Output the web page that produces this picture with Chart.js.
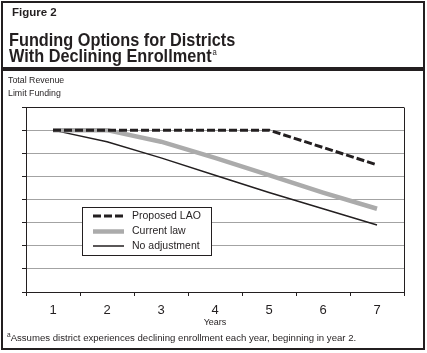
<!DOCTYPE html>
<html><head><meta charset="utf-8">
<script src="https://cdn.jsdelivr.net/npm/chart.js@4.4.1/dist/chart.umd.min.js"></script>
<style>
html,body{margin:0;padding:0;background:#fff;}
#wrap{position:relative;width:427px;height:353px;overflow:hidden;font-family:"Liberation Sans",Arial,Helvetica,sans-serif;color:#231f20;}
canvas{position:absolute;left:0;top:0;}
#frame{position:absolute;left:1px;top:1px;width:424px;height:349px;box-sizing:border-box;border:2px solid #231f20;pointer-events:none;}
#rule{position:absolute;left:1px;top:67px;width:424px;height:4px;background:#231f20;}
.t{position:absolute;white-space:nowrap;}
#fig{left:12px;top:7px;font-size:11.5px;line-height:11.5px;font-weight:bold;}
.h{left:9px;font-size:18px;line-height:18px;font-weight:bold;transform-origin:0 0;transform:scaleX(0.905);}
#h1{top:31.3px;}
#h2{top:47.3px;}
.h .sup{font-size:8.5px;font-weight:normal;vertical-align:7px;line-height:0;margin-left:1px;}
#yl{left:8px;top:73.5px;font-size:8.8px;line-height:13px;}
#fn{left:7px;top:332px;font-size:9.6px;line-height:11px;}
#fn .sup{font-size:6.5px;vertical-align:4px;line-height:0;}
</style>
</head><body>
<div id="wrap">
  <canvas id="c" width="427" height="353"></canvas>
  <div id="frame"></div>
  <div id="rule"></div>
  <div class="t" id="fig">Figure 2</div>
  <div class="t h" id="h1">Funding Options for Districts</div>
  <div class="t h" id="h2">With Declining Enrollment<span class="sup">a</span></div>
  <div class="t" id="yl">Total Revenue<br>Limit Funding</div>
  <div class="t" id="fn"><span class="sup">a</span>Assumes district experiences declining enrollment each year, beginning in year 2.</div>
</div>
<script>
const years = ['1', '2', '3', '4', '5', '6', '7'];
const proposedLAO = [7, 7, 7, 7, 7, 6.25, 5.5];
const currentLaw = [7, 7, 6.5, 5.8, 5.05, 4.3, 3.6];
const noAdjustment = [7, 6.5, 5.8, 5.05, 4.3, 3.6, 2.9];
const seriesLabels = ['Proposed LAO', 'Current law', 'No adjustment'];
const xAxisTitle = 'Years';
const yRange = [0, 8];
const yStep = 1;

const INK = '#231f20';
const FONT = '"Liberation Sans", Arial, Helvetica, sans-serif';

const framePlugin = {
  id: 'frame',
  afterDraw(chart) {
    const {ctx, chartArea: a} = chart;
    ctx.save();
    ctx.strokeStyle = INK;
    ctx.lineWidth = 1;
    ctx.beginPath();
    ctx.moveTo(Math.round(a.right) + 0.5, Math.round(a.top) + 0.5);
    ctx.lineTo(Math.round(a.right) + 0.5, Math.round(a.bottom) + 0.5);
    ctx.stroke();
    ctx.restore();
  }
};

const boxLegend = {
  id: 'boxLegend',
  afterDatasetsDraw(chart) {
    const {ctx} = chart;
    const bx = 82.5, by = 207.5, bw = 129, bh = 48;
    ctx.save();
    ctx.fillStyle = '#fff';
    ctx.fillRect(bx, by, bw, bh);
    ctx.strokeStyle = INK;
    ctx.lineWidth = 1;
    ctx.strokeRect(bx, by, bw, bh);
    const rows = [216, 231.5, 246];
    chart.data.datasets.forEach((ds, i) => {
      const y = rows[i];
      ctx.beginPath();
      ctx.strokeStyle = ds.borderColor;
      ctx.lineWidth = ds.borderWidth;
      ctx.setLineDash(ds.borderDash || []);
      ctx.moveTo(93, y);
      ctx.lineTo(124, y);
      ctx.stroke();
      ctx.setLineDash([]);
      ctx.fillStyle = INK;
      ctx.font = '10.5px ' + FONT;
      ctx.textBaseline = 'middle';
      ctx.textAlign = 'left';
      ctx.fillText(ds.label, 132, y);
    });
    ctx.restore();
  }
};

new Chart(document.getElementById('c'), {
  type: 'line',
  data: {
    labels: years,
    datasets: [
      {label: seriesLabels[0], data: proposedLAO, borderColor: INK, borderWidth: 3, borderDash: [8, 3], pointRadius: 0, tension: 0, fill: false},
      {label: seriesLabels[1], data: currentLaw, borderColor: '#ababab', borderWidth: 4.5, pointRadius: 0, tension: 0, fill: false},
      {label: seriesLabels[2], data: noAdjustment, borderColor: INK, borderWidth: 1.5, pointRadius: 0, tension: 0, fill: false}
    ]
  },
  options: {
    responsive: false,
    animation: false,
    devicePixelRatio: 1,
    layout: {padding: {left: 22, top: 107, right: 23, bottom: 0}},
    plugins: {legend: {display: false}, tooltip: {enabled: false}},
    scales: {
      x: {
        type: 'category',
        offset: true,
        grid: {offset: true, drawOnChartArea: false, drawTicks: true, tickLength: 4, tickColor: INK, tickWidth: 1},
        border: {display: true, color: INK, width: 1},
        ticks: {color: INK, font: {size: 13, family: FONT}, padding: 7, maxRotation: 0, autoSkip: false},
        title: {display: true, text: xAxisTitle, color: INK, font: {size: 9, family: FONT}, padding: {top: 0, bottom: 24.6}},
        afterFit(s) { s.height = 61; }
      },
      y: {
        min: yRange[0], max: yRange[1],
        ticks: {display: false, stepSize: yStep},
        grid: {
          color: c => (c.tick && (c.tick.value === yRange[1] || c.tick.value === yRange[0])) ? INK : '#a3a3a3',
          lineWidth: 1, tickLength: 4, tickColor: INK, drawTicks: true
        },
        border: {display: true, color: INK, width: 1},
        afterFit(s) { s.width = 4; }
      }
    }
  },
  plugins: [framePlugin, boxLegend]
});
</script>
</body></html>
